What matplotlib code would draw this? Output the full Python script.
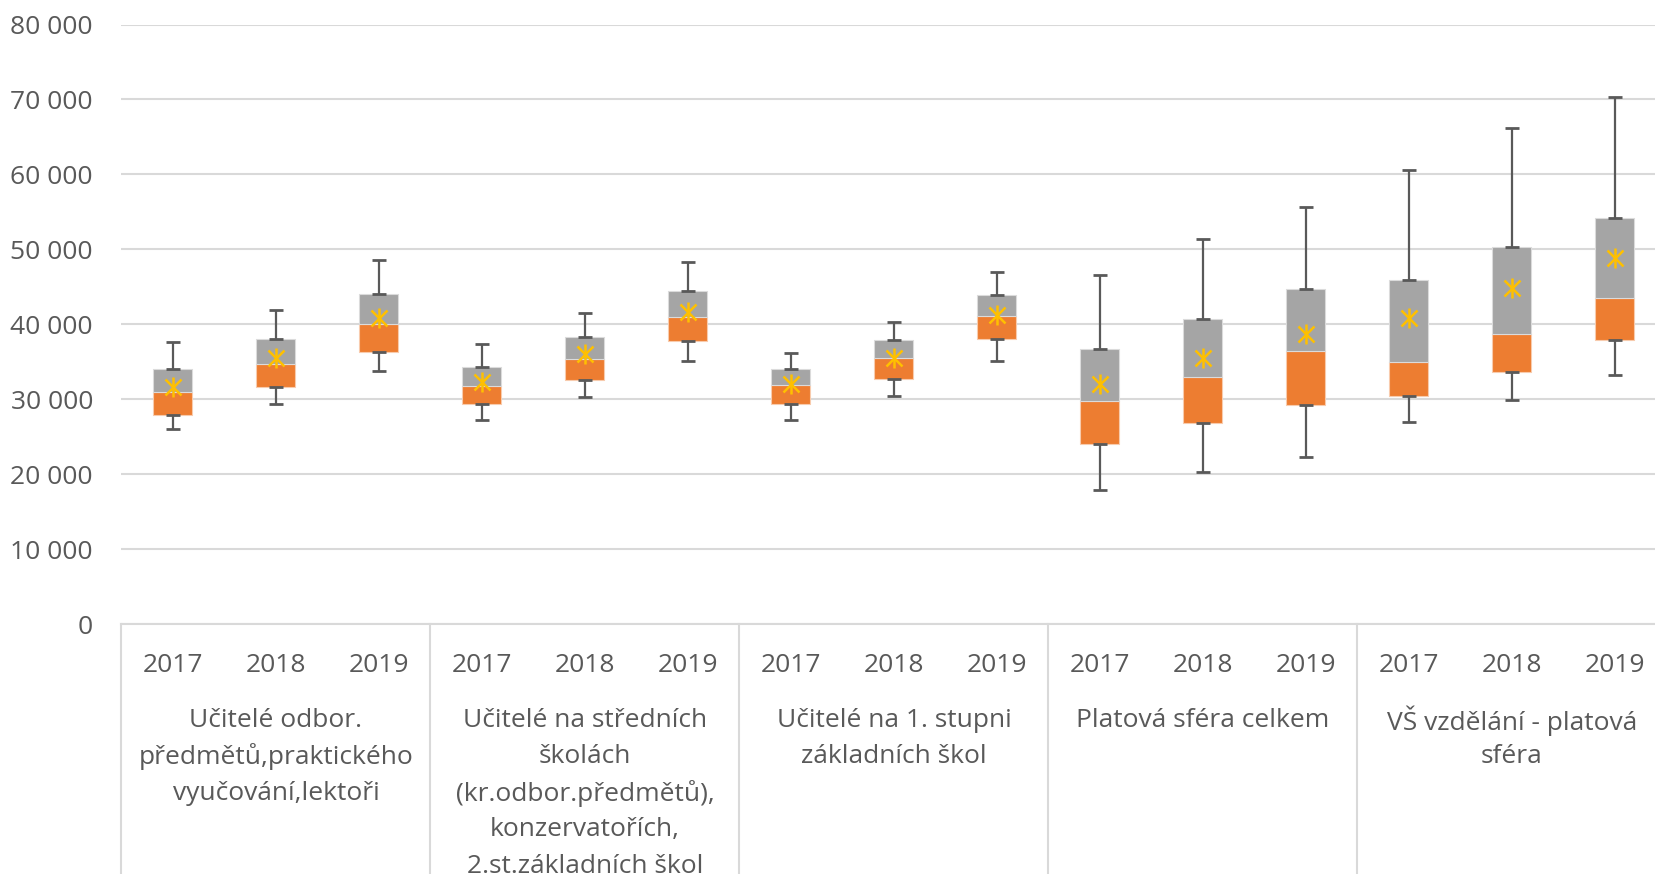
import matplotlib
matplotlib.use("Agg")
import matplotlib.pyplot as plt
import numpy as np
from matplotlib.ticker import FuncFormatter

plt.rcParams['font.family'] = ['Open Sans', 'DejaVu Sans']

# data (CZK monthly wages)
years = ["2017", "2018", "2019"]
groups = [
    "Učitelé odbor.\npředmětů,praktického\nvyučování,lektoři",
    "Učitelé na středních\nškolách\n(kr.odbor.předmětů),\nkonzervatořích,\n2.st.základních škol",
    "Učitelé na 1. stupni\nzákladních škol",
    "Platová sféra celkem",
    "VŠ vzdělání - platová\nsféra",
]
w_min = [26100, 29440, 33800, 27300, 30330, 35140, 27300, 30430, 35140,
         17920, 20280, 22360, 27000, 29930, 33230]
q1 = [27890, 31580, 36340, 29310, 32560, 37810, 29400, 32700, 37980,
      24020, 26860, 29270, 30430, 33710, 37940]
median = [30910, 34650, 40000, 31710, 35410, 41010, 31890, 35450, 41050,
          29800, 33040, 36380, 34970, 38650, 43460]
q3 = [34030, 38080, 44050, 34340, 38300, 44400, 34030, 37900, 43950,
      36650, 40650, 44750, 45860, 50320, 54140]
w_max = [37680, 41910, 48580, 37410, 41500, 48320, 36170, 40350, 46930,
         46580, 51430, 55700, 60640, 66200, 70300]
mean = [31630, 35450, 40840, 32340, 36030, 41640, 32000, 35540, 41190,
        32030, 35450, 38750, 40790, 44850, 48890]

txt = "#595959"
orange = "#ED7D31"
gray = "#A5A5A5"

fig = plt.figure(figsize=(16.55, 8.74), dpi=100)
ax = fig.add_axes([121.4 / 1655, 1 - 624.2 / 874, 1545 / 1655, 599.7 / 874])

x = np.arange(len(median))
q1 = np.array(q1); median = np.array(median); q3 = np.array(q3)
ax.bar(x, median - q1, bottom=q1, width=0.38, color=orange, edgecolor="#F8CBAD", linewidth=0.8, zorder=3)
ax.bar(x, q3 - median, bottom=median, width=0.38, color=gray, edgecolor="#DBDBDB", linewidth=0.8, zorder=3)
ax.vlines(x, q3, w_max, color=txt, linewidth=1.6, zorder=4)
ax.vlines(x, w_min, q1, color=txt, linewidth=1.6, zorder=4)
for arr in (w_min, q1, q3, w_max):
    ax.plot(x, arr, ls="none", marker="_", markersize=10, mew=2, color=txt, zorder=5)
ax.plot(x, mean, ls="none", marker="x", markersize=11, mew=1.8, color="#FFC000", zorder=6)
ax.plot(x, mean, ls="none", marker="|", markersize=14, mew=1.8, color="#FFC000", zorder=6)

ax.set_xlim(-0.5, len(x) - 0.5)
ax.set_ylim(0, 80000)
ax.set_yticks(np.arange(0, 80001, 10000))
ax.yaxis.set_major_formatter(FuncFormatter(lambda v, p: f"{int(v):,}".replace(",", " ")))
ax.tick_params(axis="y", length=0, pad=20.5, labelsize=19, labelcolor=txt)
ax.set_xticks([])
ax.grid(axis="y", color="#D9D9D9", linewidth=1.5, zorder=0)
for s in ("top", "right", "left"):
    ax.spines[s].set_visible(False)
ax.spines["bottom"].set_color("#D9D9D9")
ax.spines["bottom"].set_linewidth(1.5)

# two-level category axis
tr = ax.get_xaxis_transform()
px = 1 / 599.7
for b in np.arange(-0.5, len(x), 3):
    ax.plot([b, b], [0, -0.6], transform=tr, color="#D9D9D9", linewidth=1.5, clip_on=False)
for i in x:
    ax.text(i, -(665 - 624.2) * px, years[i % 3], transform=tr, ha="center", va="center",
            fontsize=19, color=txt)
for g, label in enumerate(groups):
    for k, line in enumerate(label.split("\n")):
        ax.text(g * 3 + 1, -(720.5 + 36.4 * k - 624.2) * px, line, transform=tr,
                ha="center", va="center", fontsize=19, color=txt)

fig.savefig("out.png", dpi=100)
